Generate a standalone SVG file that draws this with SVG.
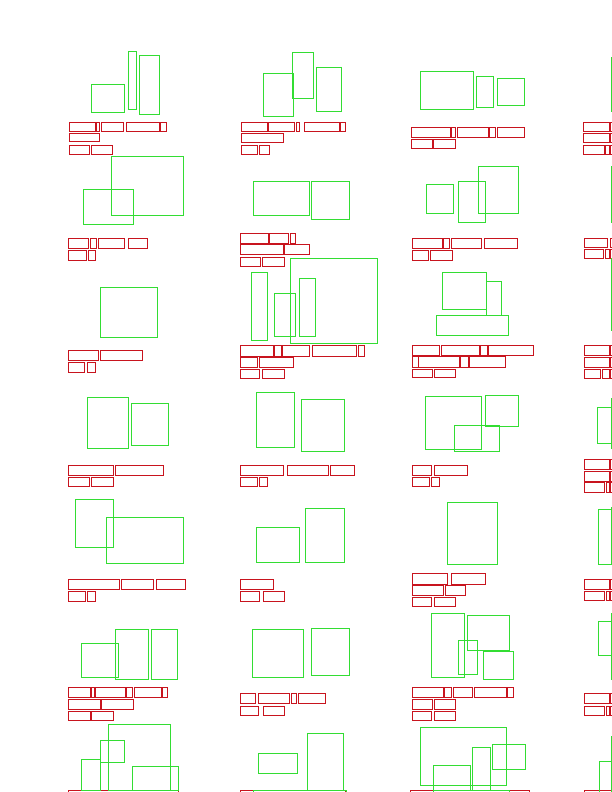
<svg xmlns="http://www.w3.org/2000/svg" width="612" height="792" viewBox="0 0 612 792">
<style>
.r{fill:none;stroke:#c8141e;stroke-width:1}
.g{fill:none;stroke:#33dd33;stroke-width:1}
</style>
<rect x="0" y="0" width="612" height="792" fill="#ffffff"/>
<g id="text-boxes" class="r">
<!-- r1c1 -->
<rect x="69.5" y="122.5" width="26" height="9"/><rect x="96.5" y="122.5" width="3" height="9"/><rect x="101.5" y="122.5" width="22" height="9"/><rect x="126.5" y="122.5" width="33" height="9"/><rect x="160.5" y="122.5" width="6" height="9"/>
<rect x="69.5" y="133.5" width="30" height="8"/>
<rect x="69.5" y="145.5" width="20" height="9"/><rect x="91.5" y="145.5" width="21" height="9"/>
<!-- r1c2 -->
<rect x="241.5" y="122.5" width="26" height="9"/><rect x="268.5" y="122.5" width="26" height="9"/><rect x="296.5" y="122.5" width="3" height="9"/><rect x="304.5" y="122.5" width="35" height="9"/><rect x="340.5" y="122.5" width="5" height="9"/>
<rect x="241.5" y="133.5" width="42" height="9"/>
<rect x="241.5" y="145.5" width="16" height="9"/><rect x="259.5" y="145.5" width="10" height="9"/>
<!-- r1c3 -->
<rect x="411.5" y="127.5" width="39" height="10"/><rect x="451.5" y="127.5" width="4" height="10"/><rect x="457.5" y="127.5" width="31" height="10"/><rect x="489.5" y="127.5" width="6" height="10"/><rect x="497.5" y="127.5" width="27" height="10"/>
<rect x="411.5" y="139.5" width="21" height="9"/><rect x="433.5" y="139.5" width="22" height="9"/>
<!-- r1c4 -->
<rect x="583.5" y="122.5" width="26" height="9"/><rect x="610.5" y="122.5" width="30" height="9"/>
<rect x="583.5" y="133.5" width="26" height="9"/><rect x="610.5" y="133.5" width="30" height="9"/>
<rect x="583.5" y="145.5" width="21" height="9"/><rect x="605.5" y="145.5" width="4" height="9"/><rect x="610.5" y="145.5" width="30" height="9"/>
<!-- r2c1 -->
<rect x="68.5" y="238.5" width="20" height="10"/><rect x="90.5" y="238.5" width="6" height="10"/><rect x="98.5" y="238.5" width="26" height="10"/><rect x="128.5" y="238.5" width="19" height="10"/>
<rect x="68.5" y="250.5" width="18" height="10"/><rect x="88.5" y="250.5" width="7" height="10"/>
<!-- r2c2 -->
<rect x="240.5" y="233.5" width="28" height="10"/><rect x="269.5" y="233.5" width="19" height="10"/><rect x="290.5" y="233.5" width="5" height="10"/>
<rect x="240.5" y="244.5" width="43" height="10"/><rect x="284.5" y="244.5" width="25" height="10"/>
<rect x="240.5" y="257.5" width="20" height="9"/><rect x="262.5" y="257.5" width="22" height="9"/>
<!-- r2c3 -->
<rect x="412.5" y="238.5" width="30" height="10"/><rect x="443.5" y="238.5" width="6" height="10"/><rect x="451.5" y="238.5" width="30" height="10"/><rect x="484.5" y="238.5" width="33" height="10"/>
<rect x="412.5" y="250.5" width="16" height="10"/><rect x="430.5" y="250.5" width="22" height="10"/>
<!-- r2c4 -->
<rect x="584.5" y="238.5" width="23" height="9"/><rect x="610.5" y="238.5" width="30" height="9"/>
<rect x="584.5" y="249.5" width="19" height="9"/><rect x="605.5" y="249.5" width="4" height="9"/><rect x="610.5" y="249.5" width="30" height="9"/>
<!-- r3c1 -->
<rect x="68.5" y="350.5" width="30" height="10"/><rect x="100.5" y="350.5" width="42" height="10"/>
<rect x="68.5" y="362.5" width="16" height="10"/><rect x="87.5" y="362.5" width="8" height="10"/>
<!-- r3c2 -->
<rect x="240.5" y="345.5" width="33" height="11"/><rect x="274.5" y="345.5" width="7" height="11"/><rect x="282.5" y="345.5" width="27" height="11"/><rect x="312.5" y="345.5" width="44" height="11"/><rect x="358.5" y="345.5" width="6" height="11"/>
<rect x="240.5" y="357.5" width="17" height="10"/><rect x="259.5" y="357.5" width="34" height="10"/>
<rect x="240.5" y="369.5" width="19" height="9"/><rect x="262.5" y="369.5" width="22" height="9"/>
<!-- r3c3 -->
<rect x="412.5" y="345.5" width="27" height="10"/><rect x="441.5" y="345.5" width="38" height="10"/><rect x="480.5" y="345.5" width="7" height="10"/><rect x="488.5" y="345.5" width="45" height="10"/>
<rect x="412.5" y="356.5" width="6" height="11"/><rect x="418.5" y="356.5" width="41" height="11"/><rect x="460.5" y="356.5" width="8" height="11"/><rect x="469.5" y="356.5" width="36" height="11"/>
<rect x="412.5" y="369.5" width="20" height="8"/><rect x="434.5" y="369.5" width="21" height="8"/>
<!-- r3c4 -->
<rect x="584.5" y="345.5" width="25" height="10"/><rect x="610.5" y="345.5" width="30" height="10"/>
<rect x="584.5" y="357.5" width="25" height="10"/><rect x="610.5" y="357.5" width="30" height="10"/>
<rect x="584.5" y="369.5" width="16" height="9"/><rect x="602.5" y="369.5" width="7" height="9"/><rect x="610.5" y="369.5" width="30" height="9"/>
<!-- r4c1 -->
<rect x="68.5" y="465.5" width="45" height="10"/><rect x="115.5" y="465.5" width="48" height="10"/>
<rect x="68.5" y="477.5" width="21" height="9"/><rect x="91.5" y="477.5" width="22" height="9"/>
<!-- r4c2 -->
<rect x="240.5" y="465.5" width="43" height="10"/><rect x="287.5" y="465.5" width="41" height="10"/><rect x="330.5" y="465.5" width="24" height="10"/>
<rect x="240.5" y="477.5" width="17" height="9"/><rect x="259.5" y="477.5" width="8" height="9"/>
<!-- r4c3 -->
<rect x="412.5" y="465.5" width="19" height="10"/><rect x="434.5" y="465.5" width="33" height="10"/>
<rect x="412.5" y="477.5" width="17" height="9"/><rect x="431.5" y="477.5" width="8" height="9"/>
<!-- r4c4 -->
<rect x="584.5" y="459.5" width="25" height="10"/><rect x="610.5" y="459.5" width="30" height="10"/>
<rect x="584.5" y="471.5" width="25" height="10"/><rect x="610.5" y="471.5" width="30" height="10"/>
<rect x="584.5" y="482.5" width="20" height="10"/><rect x="606.5" y="482.5" width="3" height="10"/><rect x="610.5" y="482.5" width="30" height="10"/>
<!-- r5c1 -->
<rect x="68.5" y="579.5" width="51" height="10"/><rect x="121.5" y="579.5" width="32" height="10"/><rect x="156.5" y="579.5" width="29" height="10"/>
<rect x="68.5" y="591.5" width="17" height="10"/><rect x="87.5" y="591.5" width="8" height="10"/>
<!-- r5c2 -->
<rect x="240.5" y="579.5" width="33" height="10"/>
<rect x="240.5" y="591.5" width="19" height="10"/><rect x="263.5" y="591.5" width="21" height="10"/>
<!-- r5c3 -->
<rect x="412.5" y="573.5" width="35" height="11"/><rect x="451.5" y="573.5" width="34" height="11"/>
<rect x="412.5" y="585.5" width="31" height="10"/><rect x="445.5" y="585.5" width="20" height="10"/>
<rect x="412.5" y="597.5" width="19" height="9"/><rect x="434.5" y="597.5" width="21" height="9"/>
<!-- r5c4 -->
<rect x="584.5" y="579.5" width="25" height="10"/><rect x="610.5" y="579.5" width="30" height="10"/>
<rect x="584.5" y="591.5" width="20" height="9"/><rect x="606.5" y="591.5" width="3" height="9"/><rect x="610.5" y="591.5" width="30" height="9"/>
<!-- r6c1 -->
<rect x="68.5" y="687.5" width="22" height="10"/><rect x="91.5" y="687.5" width="3" height="10"/><rect x="95.5" y="687.5" width="30" height="10"/><rect x="126.5" y="687.5" width="6" height="10"/><rect x="134.5" y="687.5" width="27" height="10"/><rect x="162.5" y="687.5" width="5" height="10"/>
<rect x="68.5" y="699.5" width="32" height="10"/><rect x="101.5" y="699.5" width="32" height="10"/>
<rect x="68.5" y="711.5" width="22" height="9"/><rect x="91.5" y="711.5" width="22" height="9"/>
<!-- r6c2 -->
<rect x="240.5" y="693.5" width="15" height="10"/><rect x="258.5" y="693.5" width="31" height="10"/><rect x="291.5" y="693.5" width="5" height="10"/><rect x="298.5" y="693.5" width="27" height="10"/>
<rect x="240.5" y="706.5" width="18" height="9"/><rect x="263.5" y="706.5" width="21" height="9"/>
<!-- r6c3 -->
<rect x="412.5" y="687.5" width="31" height="10"/><rect x="444.5" y="687.5" width="7" height="10"/><rect x="453.5" y="687.5" width="19" height="10"/><rect x="474.5" y="687.5" width="32" height="10"/><rect x="507.5" y="687.5" width="6" height="10"/>
<rect x="412.5" y="699.5" width="20" height="10"/><rect x="434.5" y="699.5" width="21" height="10"/>
<rect x="412.5" y="711.5" width="19" height="9"/><rect x="434.5" y="711.5" width="21" height="9"/>
<!-- r6c4 -->
<rect x="584.5" y="693.5" width="25" height="10"/><rect x="610.5" y="693.5" width="30" height="10"/>
<rect x="584.5" y="706.5" width="20" height="9"/><rect x="606.5" y="706.5" width="3" height="9"/><rect x="610.5" y="706.5" width="30" height="9"/>
<!-- r7 -->
<rect x="68.5" y="790.5" width="110" height="10"/>
<rect x="240.5" y="790.5" width="105" height="10"/>
<rect x="410.5" y="790.5" width="119" height="10"/>
<rect x="584.5" y="790.5" width="60" height="10"/>
</g>
<g id="figure-boxes" class="g">
<!-- r1 -->
<rect x="91.5" y="84.5" width="33" height="28"/><rect x="128.5" y="51.5" width="8" height="58"/><rect x="139.5" y="55.5" width="20" height="59"/>
<rect x="263.5" y="73.5" width="30" height="43"/><rect x="292.5" y="52.5" width="21" height="46"/><rect x="316.5" y="67.5" width="25" height="44"/>
<rect x="420.5" y="71.5" width="53" height="38"/><rect x="476.5" y="76.5" width="17" height="31"/><rect x="497.5" y="78.5" width="27" height="27"/>
<rect x="611.5" y="57.5" width="30" height="54"/>
<!-- r2 -->
<rect x="111.5" y="156.5" width="72" height="59"/><rect x="83.5" y="189.5" width="50" height="35"/>
<rect x="253.5" y="181.5" width="56" height="34"/><rect x="311.5" y="181.5" width="38" height="38"/>
<rect x="426.5" y="184.5" width="27" height="29"/><rect x="458.5" y="181.5" width="27" height="41"/><rect x="478.5" y="166.5" width="40" height="47"/>
<rect x="611.5" y="166.5" width="30" height="56"/>
<!-- r3 -->
<rect x="100.5" y="287.5" width="57" height="50"/>
<rect x="290.5" y="258.5" width="87" height="85"/><rect x="251.5" y="272.5" width="16" height="68"/><rect x="274.5" y="293.5" width="21" height="43"/><rect x="299.5" y="278.5" width="16" height="58"/>
<rect x="442.5" y="272.5" width="44" height="37"/><rect x="486.5" y="281.5" width="15" height="34"/><rect x="436.5" y="315.5" width="72" height="20"/>
<rect x="611.5" y="258.5" width="30" height="72"/>
<!-- r4 -->
<rect x="87.5" y="397.5" width="41" height="51"/><rect x="131.5" y="403.5" width="37" height="42"/>
<rect x="256.5" y="392.5" width="38" height="55"/><rect x="301.5" y="399.5" width="43" height="52"/>
<rect x="425.5" y="396.5" width="56" height="53"/><rect x="485.5" y="395.5" width="33" height="31"/><rect x="454.5" y="425.5" width="45" height="26"/>
<rect x="597.5" y="407.5" width="14" height="36"/><rect x="611.5" y="398.5" width="30" height="50"/>
<!-- r5 -->
<rect x="75.5" y="499.5" width="38" height="48"/><rect x="106.5" y="517.5" width="77" height="46"/>
<rect x="256.5" y="527.5" width="43" height="35"/><rect x="305.5" y="508.5" width="39" height="54"/>
<rect x="447.5" y="502.5" width="50" height="62"/>
<rect x="598.5" y="509.5" width="13" height="55"/><rect x="611.5" y="507.5" width="30" height="57"/>
<!-- r6 -->
<rect x="81.5" y="643.5" width="37" height="34"/><rect x="115.5" y="629.5" width="33" height="50"/><rect x="151.5" y="629.5" width="26" height="50"/>
<rect x="252.5" y="629.5" width="51" height="48"/><rect x="311.5" y="628.5" width="38" height="47"/>
<rect x="431.5" y="613.5" width="33" height="64"/><rect x="467.5" y="615.5" width="42" height="35"/><rect x="458.5" y="640.5" width="19" height="34"/><rect x="483.5" y="651.5" width="30" height="28"/>
<rect x="598.5" y="621.5" width="13" height="34"/><rect x="611.5" y="613.5" width="30" height="66"/>
<!-- r7 -->
<rect x="108.5" y="724.5" width="62" height="66"/><rect x="100.5" y="740.5" width="24" height="22"/><rect x="81.5" y="759.5" width="19" height="31"/><rect x="132.5" y="766.5" width="46" height="24"/>
<rect x="258.5" y="753.5" width="39" height="20"/><rect x="307.5" y="733.5" width="36" height="57"/><rect x="253.5" y="790.5" width="93" height="10"/>
<rect x="420.5" y="727.5" width="86" height="58"/><rect x="433.5" y="765.5" width="37" height="25"/><rect x="472.5" y="747.5" width="18" height="43"/><rect x="492.5" y="744.5" width="33" height="25"/><rect x="433.5" y="790.5" width="76" height="10"/>
<rect x="599.5" y="761.5" width="12" height="40"/><rect x="611.5" y="736.5" width="30" height="60"/>
</g>
</svg>
